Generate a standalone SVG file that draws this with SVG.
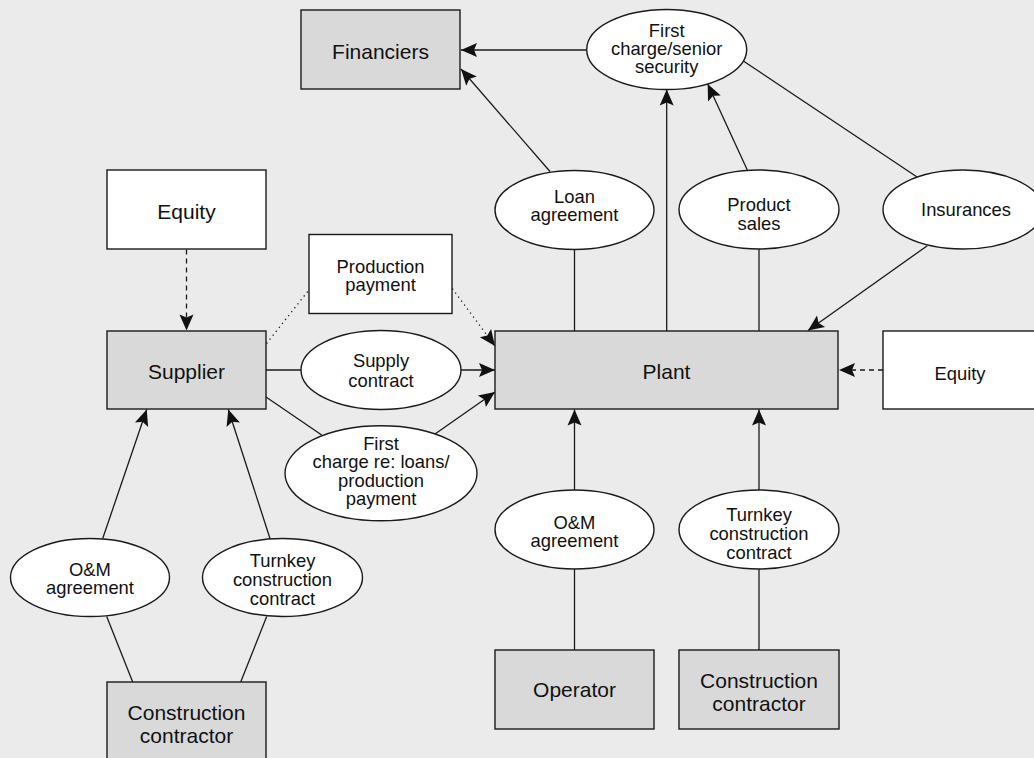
<svg xmlns="http://www.w3.org/2000/svg" width="1034" height="758" viewBox="0 0 1034 758">
  <style>
    .box { fill: #d9d9d9; stroke: #1a1a1a; stroke-width: 1.4; }
    .wbox { fill: #ffffff; stroke: #1a1a1a; stroke-width: 1.4; }
    .ell { fill: #ffffff; stroke: #1a1a1a; stroke-width: 1.4; }
    .t21 { font-family: "Liberation Sans", Arial, Helvetica, sans-serif; font-size: 21px; fill: #111; text-anchor: middle; }
    .t18 { font-family: "Liberation Sans", Arial, Helvetica, sans-serif; font-size: 18.4px; fill: #111; text-anchor: middle; }
    .ln { fill: none; stroke: #1a1a1a; stroke-width: 1.3; }
    .dash { stroke-dasharray: 5 4; }
    .dot { stroke-dasharray: 1.3 3.7; }
    .arr { marker-end: url(#head); }
  </style>
  <defs>
    <marker id="head" viewBox="-17 -8 18 16" refX="0" refY="0" markerWidth="18" markerHeight="16" orient="auto" markerUnits="userSpaceOnUse">
      <path d="M0,0 L-16,-7 L-13,0 L-16,7 Z" fill="#111"/>
    </marker>
  </defs>

  <rect x="0" y="0" width="1034" height="758" fill="#ebebeb"/>

  <!-- connectors -->
  <g id="connectors">
    <line class="ln arr" x1="586.7" y1="50" x2="461" y2="50"/>
    <line class="ln arr" x1="550" y1="171.5" x2="461" y2="69"/>
    <line class="ln arr" x1="666.7" y1="331" x2="666.7" y2="89.5"/>
    <line class="ln arr" x1="747.3" y1="170" x2="707.7" y2="84"/>
    <line class="ln" x1="743.3" y1="61" x2="916.7" y2="176.7"/>
    <line class="ln arr" x1="927.3" y1="245.7" x2="808" y2="330.5"/>
    <line class="ln" x1="574.5" y1="249" x2="574.5" y2="331"/>
    <line class="ln" x1="759" y1="249" x2="759" y2="331"/>
    <line class="ln dash arr" x1="883" y1="370" x2="839" y2="370"/>
    <line class="ln dash arr" x1="186.5" y1="249.5" x2="186.5" y2="330.5"/>
    <line class="ln" x1="266" y1="370" x2="301" y2="370"/>
    <line class="ln arr" x1="461" y1="370" x2="495" y2="370"/>
    <line class="ln" x1="266" y1="397" x2="321.7" y2="435"/>
    <line class="ln arr" x1="435" y1="434" x2="495" y2="392"/>
    <line class="ln dot" x1="266.5" y1="343.5" x2="308.5" y2="290.5"/>
    <line class="ln dot arr" x1="452.3" y1="288.5" x2="495" y2="346"/>
    <line class="ln arr" x1="102.7" y1="538.5" x2="146.7" y2="409.5"/>
    <line class="ln arr" x1="270" y1="538.5" x2="228.3" y2="409.5"/>
    <line class="ln" x1="106.7" y1="616.5" x2="132.7" y2="682"/>
    <line class="ln" x1="266.7" y1="616.5" x2="240.7" y2="682"/>
    <line class="ln arr" x1="574.5" y1="490" x2="574.5" y2="409.5"/>
    <line class="ln arr" x1="759" y1="490" x2="759" y2="409.5"/>
    <line class="ln" x1="574.5" y1="569" x2="574.5" y2="650"/>
    <line class="ln" x1="759" y1="569" x2="759" y2="650"/>
  </g>

  <!-- nodes -->
  <g id="financiers">
    <rect class="box" x="301" y="10" width="159" height="79"/>
    <text class="t21" x="380.5" y="59">Financiers</text>
  </g>
  <g id="senior-security">
    <ellipse class="ell" cx="666.7" cy="49.5" rx="80" ry="40"/>
    <text class="t18" x="666.7" y="36.8">First</text>
    <text class="t18" x="666.7" y="54.8">charge/senior</text>
    <text class="t18" x="666.7" y="72.8">security</text>
  </g>
  <g id="loan-agreement">
    <ellipse class="ell" cx="574.5" cy="210" rx="79.5" ry="39.5"/>
    <text class="t18" x="574.5" y="203.3">Loan</text>
    <text class="t18" x="574.5" y="221.3">agreement</text>
  </g>
  <g id="product-sales">
    <ellipse class="ell" cx="759" cy="209.5" rx="80" ry="39.5"/>
    <text class="t18" x="759" y="211">Product</text>
    <text class="t18" x="759" y="229.5">sales</text>
  </g>
  <g id="insurances">
    <ellipse class="ell" cx="963" cy="209.5" rx="80" ry="39.5"/>
    <text class="t18" x="966" y="215.5">Insurances</text>
  </g>
  <g id="equity-supplier">
    <rect class="wbox" x="107" y="170" width="159" height="79"/>
    <text class="t21" x="186.5" y="218.5">Equity</text>
  </g>
  <g id="production-payment">
    <rect class="wbox" x="309" y="234.5" width="143" height="79"/>
    <text class="t18" x="380.5" y="273.3">Production</text>
    <text class="t18" x="380.5" y="290.8">payment</text>
  </g>
  <g id="supplier">
    <rect class="box" x="107" y="331" width="159" height="78"/>
    <text class="t21" x="186.5" y="378.5">Supplier</text>
  </g>
  <g id="supply-contract">
    <ellipse class="ell" cx="381" cy="370" rx="80" ry="39.5"/>
    <text class="t18" x="381" y="366.7">Supply</text>
    <text class="t18" x="381" y="386.5">contract</text>
  </g>
  <g id="plant">
    <rect class="box" x="495" y="331" width="343" height="78"/>
    <text class="t21" x="666.5" y="379">Plant</text>
  </g>
  <g id="equity-plant">
    <rect class="wbox" x="883" y="331" width="160" height="78"/>
    <text class="t18" x="960" y="379.5">Equity</text>
  </g>
  <g id="first-charge-loans">
    <ellipse class="ell" cx="381" cy="473.3" rx="96" ry="47.5"/>
    <text class="t18" x="381" y="450">First</text>
    <text class="t18" x="381" y="468.3">charge re: loans/</text>
    <text class="t18" x="381" y="486.6">production</text>
    <text class="t18" x="381" y="505">payment</text>
  </g>
  <g id="om-supplier">
    <ellipse class="ell" cx="90" cy="577.5" rx="79.5" ry="39"/>
    <text class="t18" x="90" y="575.5">O&amp;M</text>
    <text class="t18" x="90" y="593.5">agreement</text>
  </g>
  <g id="turnkey-supplier">
    <ellipse class="ell" cx="282.5" cy="577.5" rx="80" ry="39"/>
    <text class="t18" x="282.5" y="567">Turnkey</text>
    <text class="t18" x="282.5" y="586">construction</text>
    <text class="t18" x="282.5" y="605">contract</text>
  </g>
  <g id="contractor-supplier">
    <rect class="box" x="107" y="682" width="159" height="79"/>
    <text class="t21" x="186.5" y="720">Construction</text>
    <text class="t21" x="186.5" y="743">contractor</text>
  </g>
  <g id="om-plant">
    <ellipse class="ell" cx="574.5" cy="529.5" rx="79.5" ry="39.5"/>
    <text class="t18" x="574.5" y="528.5">O&amp;M</text>
    <text class="t18" x="574.5" y="546.5">agreement</text>
  </g>
  <g id="turnkey-plant">
    <ellipse class="ell" cx="759" cy="529.5" rx="80" ry="39.5"/>
    <text class="t18" x="759" y="521">Turnkey</text>
    <text class="t18" x="759" y="540">construction</text>
    <text class="t18" x="759" y="559">contract</text>
  </g>
  <g id="operator">
    <rect class="box" x="495" y="650" width="159" height="79"/>
    <text class="t21" x="574.5" y="696.5">Operator</text>
  </g>
  <g id="contractor-plant">
    <rect class="box" x="679" y="650" width="160" height="79"/>
    <text class="t21" x="759" y="688">Construction</text>
    <text class="t21" x="759" y="711">contractor</text>
  </g>
</svg>
